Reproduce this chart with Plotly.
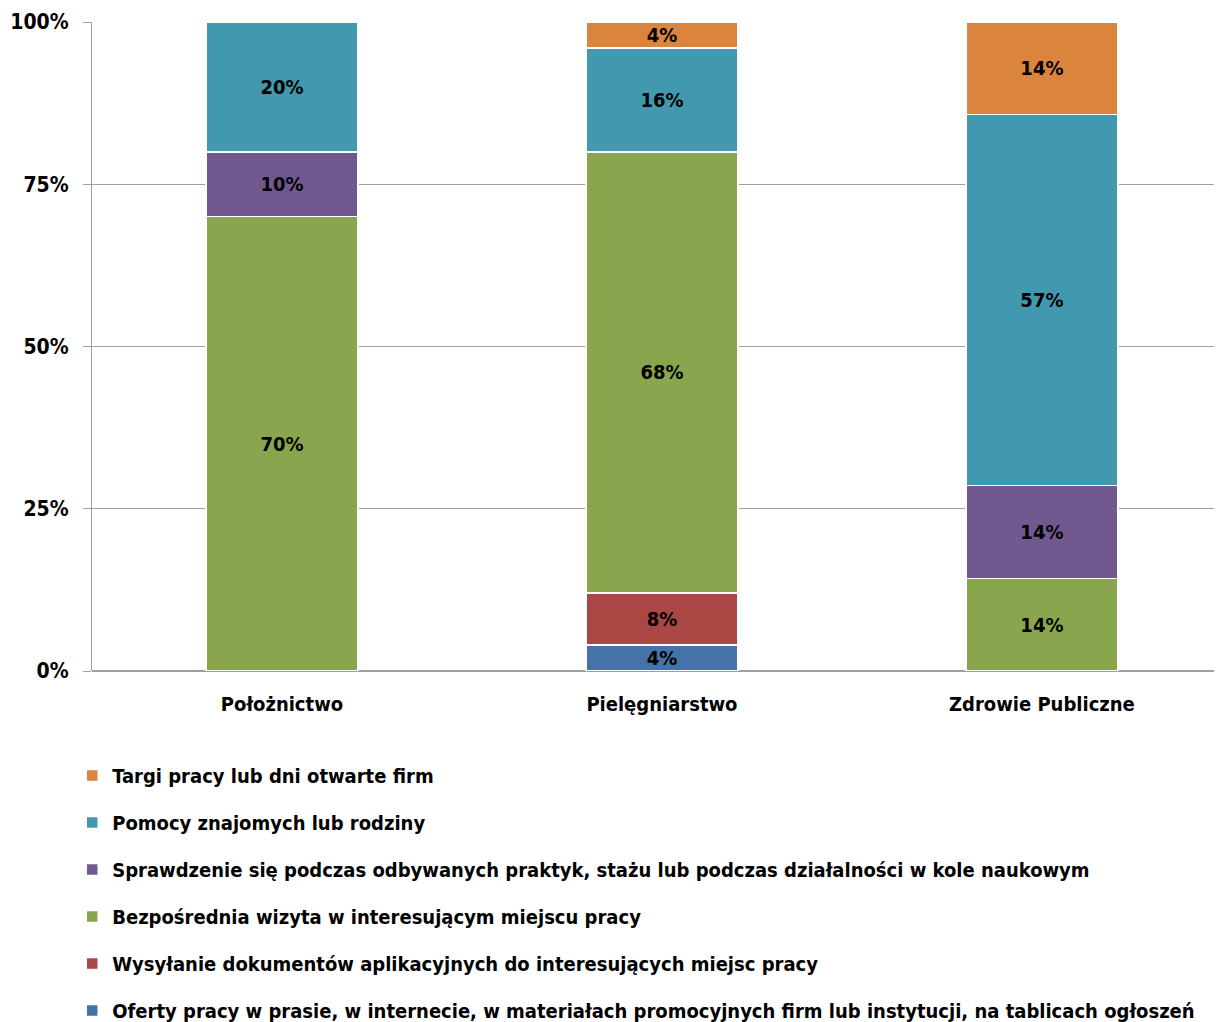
import plotly.graph_objects as go

categories = ["Położnictwo", "Pielęgniarstwo", "Zdrowie Publiczne"]

series_names = [
    "Oferty pracy w prasie, w internecie, w materiałach promocyjnych firm lub instytucji, na tablicach ogłoszeń",
    "Wysyłanie dokumentów aplikacyjnych do interesujących miejsc pracy",
    "Bezpośrednia wizyta w interesującym miejscu pracy",
    "Sprawdzenie się podczas odbywanych praktyk, stażu lub podczas działalności w kole naukowym",
    "Pomocy znajomych lub rodziny",
    "Targi pracy lub dni otwarte firm",
]

oferty = [None, 4, None]
wysylanie = [None, 8, None]
wizyta = [70, 68, 14.29]
sprawdzenie = [10, None, 14.29]
pomocy = [20, 16, 57.14]
targi = [None, 4, 14.29]

series_values = [oferty, wysylanie, wizyta, sprawdzenie, pomocy, targi]
colors = ["#4572A7", "#AA4643", "#89A54E", "#71588F", "#4198AF", "#DB843D"]

FONT = "DejaVu Sans Condensed"

fig = go.Figure()
n = len(series_names)
for i, (name, vals, col) in enumerate(zip(series_names, series_values, colors)):
    fig.add_trace(go.Bar(
        x=categories, y=vals, name=name,
        marker=dict(color=col, line=dict(color="white", width=1.5)),
        texttemplate="%{y:.0f}%", textposition="inside",
        insidetextanchor="middle",
        textfont=dict(family=FONT, size=20, color="black", weight="bold"),
        width=0.4, legendgroup=str(i), legendrank=n - i, hoverinfo="skip",
    ))

fig.update_layout(
    width=1214, height=1014,
    barmode="stack",
    plot_bgcolor="white", paper_bgcolor="white",
    margin=dict(l=84, r=0, t=14, b=351, autoexpand=False),
    font=dict(family=FONT, size=20, color="black", weight="bold"),
    uniformtext=dict(minsize=20, mode="show"),
    showlegend=True,
    legend=dict(
        x=-0.0175, xanchor="left", y=-0.131, yanchor="top",
        traceorder="grouped", tracegroupgap=18,
        font=dict(family=FONT, size=20, color="black", weight="bold"),
        itemwidth=30,
    ),
)
fig.update_xaxes(
    range=[-0.5, 2.474], showgrid=False, showline=False,
    ticks="", ticklabelstandoff=19,
    tickfont=dict(family=FONT, size=20, color="black", weight="bold"),
)
fig.update_yaxes(
    range=[0, 100], tickvals=[0, 25, 50, 75, 100],
    ticktext=["0%", "25%", "50%", "75%", "100%"],
    showgrid=True, gridcolor="#A0A0A0", gridwidth=1.3,
    showline=True, linecolor="#A0A0A0", linewidth=1.3,
    ticks="outside", ticklen=8, tickcolor="#A0A0A0", tickwidth=1.3,
    zeroline=True, zerolinecolor="#A0A0A0", zerolinewidth=1.5,
    ticklabelstandoff=10,
    tickfont=dict(family=FONT, size=21, color="black", weight="bold"),
)

fig.write_html("out.html")
